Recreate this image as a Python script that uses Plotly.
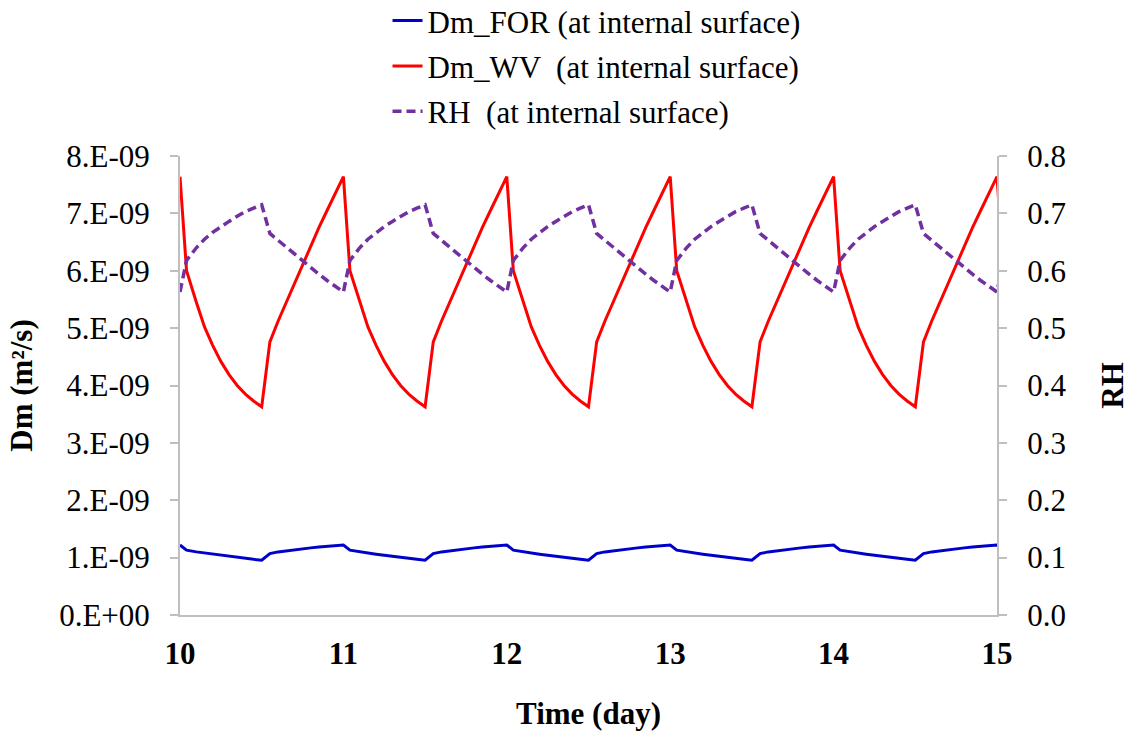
import plotly.graph_objects as go

# Time (day)
time = [
    10.00, 10.04, 10.10, 10.15, 10.20, 10.25, 10.30, 10.35, 10.40, 10.45, 10.50, 10.55, 10.60, 10.65, 10.70, 10.75, 10.80, 10.85, 10.90, 10.95,
    11.00, 11.04, 11.10, 11.15, 11.20, 11.25, 11.30, 11.35, 11.40, 11.45, 11.50, 11.55, 11.60, 11.65, 11.70, 11.75, 11.80, 11.85, 11.90, 11.95,
    12.00, 12.04, 12.10, 12.15, 12.20, 12.25, 12.30, 12.35, 12.40, 12.45, 12.50, 12.55, 12.60, 12.65, 12.70, 12.75, 12.80, 12.85, 12.90, 12.95,
    13.00, 13.04, 13.10, 13.15, 13.20, 13.25, 13.30, 13.35, 13.40, 13.45, 13.50, 13.55, 13.60, 13.65, 13.70, 13.75, 13.80, 13.85, 13.90, 13.95,
    14.00, 14.04, 14.10, 14.15, 14.20, 14.25, 14.30, 14.35, 14.40, 14.45, 14.50, 14.55, 14.60, 14.65, 14.70, 14.75, 14.80, 14.85, 14.90, 14.95,
    15.00, 15.04,
]

# Dm_WV (m2/s), in units of 1e-9
dm_wv = [
    7.64, 6.00, 5.45, 5.02, 4.70, 4.42, 4.19, 4.00, 3.85, 3.73, 3.63, 4.76, 5.12, 5.45, 5.78, 6.12, 6.43, 6.75, 7.05, 7.35,
    7.64, 6.00, 5.45, 5.02, 4.70, 4.42, 4.19, 4.00, 3.85, 3.73, 3.63, 4.76, 5.12, 5.45, 5.78, 6.12, 6.43, 6.75, 7.05, 7.35,
    7.64, 6.00, 5.45, 5.02, 4.70, 4.42, 4.19, 4.00, 3.85, 3.73, 3.63, 4.76, 5.12, 5.45, 5.78, 6.12, 6.43, 6.75, 7.05, 7.35,
    7.64, 6.00, 5.45, 5.02, 4.70, 4.42, 4.19, 4.00, 3.85, 3.73, 3.63, 4.76, 5.12, 5.45, 5.78, 6.12, 6.43, 6.75, 7.05, 7.35,
    7.64, 6.00, 5.45, 5.02, 4.70, 4.42, 4.19, 4.00, 3.85, 3.73, 3.63, 4.76, 5.12, 5.45, 5.78, 6.12, 6.43, 6.75, 7.05, 7.35,
    7.64, 6.00,
]

# Dm_FOR (m2/s), in units of 1e-9
dm_for = [
    1.22, 1.13, 1.10, 1.08, 1.06, 1.04, 1.02, 1.00, 0.985, 0.97, 0.955, 1.07, 1.10, 1.12, 1.14, 1.155, 1.17, 1.185, 1.195, 1.21,
    1.22, 1.13, 1.10, 1.08, 1.06, 1.04, 1.02, 1.00, 0.985, 0.97, 0.955, 1.07, 1.10, 1.12, 1.14, 1.155, 1.17, 1.185, 1.195, 1.21,
    1.22, 1.13, 1.10, 1.08, 1.06, 1.04, 1.02, 1.00, 0.985, 0.97, 0.955, 1.07, 1.10, 1.12, 1.14, 1.155, 1.17, 1.185, 1.195, 1.21,
    1.22, 1.13, 1.10, 1.08, 1.06, 1.04, 1.02, 1.00, 0.985, 0.97, 0.955, 1.07, 1.10, 1.12, 1.14, 1.155, 1.17, 1.185, 1.195, 1.21,
    1.22, 1.13, 1.10, 1.08, 1.06, 1.04, 1.02, 1.00, 0.985, 0.97, 0.955, 1.07, 1.10, 1.12, 1.14, 1.155, 1.17, 1.185, 1.195, 1.21,
    1.22, 1.13,
]

# RH at internal surface
rh = [
    0.563, 0.618, 0.640, 0.655, 0.667, 0.677, 0.686, 0.695, 0.703, 0.709, 0.715, 0.665, 0.653, 0.640, 0.628, 0.616, 0.605, 0.594, 0.583, 0.573,
    0.563, 0.618, 0.640, 0.655, 0.667, 0.677, 0.686, 0.695, 0.703, 0.709, 0.715, 0.665, 0.653, 0.640, 0.628, 0.616, 0.605, 0.594, 0.583, 0.573,
    0.563, 0.618, 0.640, 0.655, 0.667, 0.677, 0.686, 0.695, 0.703, 0.709, 0.715, 0.665, 0.653, 0.640, 0.628, 0.616, 0.605, 0.594, 0.583, 0.573,
    0.563, 0.618, 0.640, 0.655, 0.667, 0.677, 0.686, 0.695, 0.703, 0.709, 0.715, 0.665, 0.653, 0.640, 0.628, 0.616, 0.605, 0.594, 0.583, 0.573,
    0.563, 0.618, 0.640, 0.655, 0.667, 0.677, 0.686, 0.695, 0.703, 0.709, 0.715, 0.665, 0.653, 0.640, 0.628, 0.616, 0.605, 0.594, 0.583, 0.573,
    0.563, 0.618,
]

x_ticks = [10, 11, 12, 13, 14, 15]
left_tickvals = [0, 1e-9, 2e-9, 3e-9, 4e-9, 5e-9, 6e-9, 7e-9, 8e-9]
left_ticktext = ["0.E+00", "1.E-09", "2.E-09", "3.E-09", "4.E-09", "5.E-09", "6.E-09", "7.E-09", "8.E-09"]
right_tickvals = [0, 0.1, 0.2, 0.3, 0.4, 0.5, 0.6, 0.7, 0.8]

FONT = "Liberation Serif"
FS = 31

fig = go.Figure()
fig.add_trace(go.Scatter(x=time, y=[v * 1e-9 for v in dm_for], mode="lines",
                         name="Dm_FOR (at internal surface)", legendgroup="a",
                         line=dict(color="#0000CC", width=3)))
fig.add_trace(go.Scatter(x=time, y=[v * 1e-9 for v in dm_wv], mode="lines",
                         name="Dm_WV  (at internal surface)", legendgroup="b",
                         line=dict(color="#FF0000", width=3)))
fig.add_trace(go.Scatter(x=time, y=rh, mode="lines", yaxis="y2",
                         name="RH  (at internal surface)", legendgroup="c",
                         line=dict(color="#7030A0", width=3.5, dash="9px,5px")))

axis_color = "#BFBFBF"
fig.update_layout(
    width=1130, height=733,
    margin=dict(l=180, r=133, t=156, b=118, autoexpand=False),
    paper_bgcolor="white", plot_bgcolor="white",
    font=dict(family=FONT, size=FS, color="black"),
    showlegend=True,
    legend=dict(x=0.254, y=1.353, xanchor="left", yanchor="top",
                font=dict(family=FONT, size=FS), bgcolor="rgba(0,0,0,0)",
                tracegroupgap=2, traceorder="grouped"),
    xaxis=dict(range=[10, 15], tickvals=x_ticks, ticktext=[str(t) for t in x_ticks],
               showgrid=False, zeroline=False, showline=True, linecolor=axis_color, linewidth=2,
               ticks="", tickfont=dict(family=FONT, size=FS, weight="bold"),
               ticklabelstandoff=10,
               title=dict(text="Time (day)", font=dict(family=FONT, size=FS, weight="bold"), standoff=32)),
    yaxis=dict(range=[0, 8e-9], tickvals=left_tickvals, ticktext=left_ticktext,
               showgrid=False, zeroline=False, showline=True, linecolor=axis_color, linewidth=2,
               ticks="outside", ticklen=8, tickcolor=axis_color, tickwidth=2,
               ticklabelstandoff=14, tickfont=dict(family=FONT, size=FS),
               title=dict(text="Dm (m²/s)", font=dict(family=FONT, size=FS, weight="bold"), standoff=17)),
    yaxis2=dict(range=[0, 0.8], tickvals=right_tickvals, tickformat=".1f",
                overlaying="y", side="right", anchor="x",
                showgrid=False, zeroline=False, showline=True, linecolor=axis_color, linewidth=2,
                ticks="outside", ticklen=8, tickcolor=axis_color, tickwidth=2,
                ticklabelstandoff=14, tickfont=dict(family=FONT, size=FS),
                title=dict(text="RH", font=dict(family=FONT, size=FS, weight="bold"), standoff=44)),
)

fig.write_html("out.html")
